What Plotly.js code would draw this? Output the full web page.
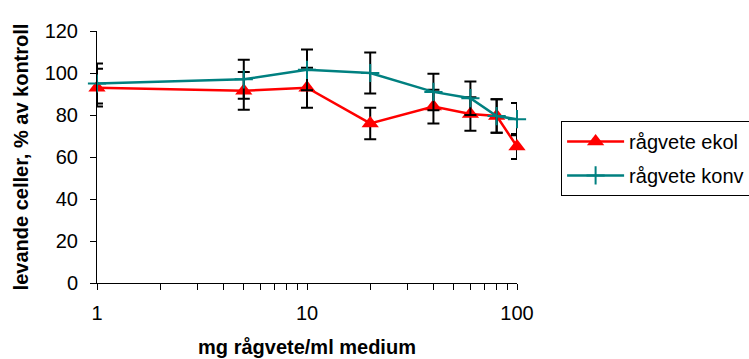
<!DOCTYPE html>
<html>
<head>
<meta charset="utf-8">
<script src="https://cdn.plot.ly/plotly-3.0.1.min.js"></script>
<style>html,body{margin:0;padding:0;background:#fff;}#chart{width:749px;height:359px;}</style>
</head>
<body>
<div id="chart"></div>
<script>
// Data
const doses = [1, 5, 10, 20, 40, 60, 80, 100];
const ekol = [93, 91.5, 93, 76, 84, 80.5, 79.5, 65];
const ekolErr = [9, 9, 9.5, 7.5, 8, 8, 8, 6];
const konv = [95, 97, 101.5, 100, 91, 88, 79.5, 78];
const konvErr = [9.5, 9.3, 9.7, 9.8, 8.7, 8, 8, 7.7];
const seriesNames = ['rågvete ekol', 'rågvete konv'];
const xTickVals = [1, 2, 3, 4, 5, 6, 7, 8, 9, 10, 20, 30, 40, 50, 60, 70, 80, 90, 100];
const xTickText = ['1', '', '', '', '', '', '', '', '', '10', '', '', '', '', '', '', '', '', '100'];
const yTickVals = [0, 20, 40, 60, 80, 100, 120];

const font = 'Liberation Sans, Arial, sans-serif';
const fs = 20;

const traces = [
  {
    x: doses, y: ekol, name: seriesNames[0], type: 'scatter', mode: 'lines+markers',
    legendgroup: 'a', cliponaxis: false,
    line: {color: '#FF0000', width: 2.5},
    marker: {symbol: 'triangle-up', size: 15, color: '#FF0000'},
    error_y: {type: 'data', array: ekolErr, visible: true, color: '#000000', thickness: 2, width: 6}
  },
  {
    x: doses, y: konv, name: seriesNames[1], type: 'scatter', mode: 'lines+markers',
    legendgroup: 'b', cliponaxis: false,
    line: {color: '#008080', width: 2.5},
    marker: {symbol: 'cross-thin', size: 13, color: '#008080', line: {color: '#008080', width: 2}},
    error_y: {type: 'data', array: konvErr, visible: true, color: '#000000', thickness: 2, width: 6}
  }
];

const layout = {
  width: 749, height: 359,
  margin: {l: 97, r: 232, t: 31, b: 76, autoexpand: false},
  paper_bgcolor: '#ffffff', plot_bgcolor: '#ffffff',
  font: {family: font, size: fs, color: '#000000'},
  showlegend: true,
  legend: {
    x: 1.105, y: 0.643, xanchor: 'left', yanchor: 'top',
    bordercolor: '#000000', borderwidth: 1,
    font: {family: font, size: fs, color: '#000000'},
    itemwidth: 57, traceorder: 'grouped', tracegroupgap: 5
  },
  xaxis: {
    type: 'log', range: [0, 2],
    showgrid: false, zeroline: false,
    showline: true, linecolor: '#000000', linewidth: 1,
    ticks: 'outside', ticklen: 6, tickcolor: '#000000',
    tickmode: 'array', tickvals: xTickVals, ticktext: xTickText,
    tickfont: {family: font, size: fs},
    ticklabelstandoff: 6,
    title: {text: '<b>mg rågvete/ml medium</b>', font: {family: font, size: fs}, standoff: 16}
  },
  yaxis: {
    range: [0, 120],
    showgrid: false, zeroline: false,
    showline: true, linecolor: '#000000', linewidth: 1,
    ticks: 'outside', ticklen: 6, tickcolor: '#000000',
    tickmode: 'array', tickvals: yTickVals,
    tickfont: {family: font, size: fs},
    ticklabelstandoff: 8,
    title: {text: '<b>levande celler, % av kontroll</b>', font: {family: font, size: fs}, standoff: 10}
  }
};

Plotly.newPlot('chart', traces, layout, {displayModeBar: false, staticPlot: true});
</script>
</body>
</html>
